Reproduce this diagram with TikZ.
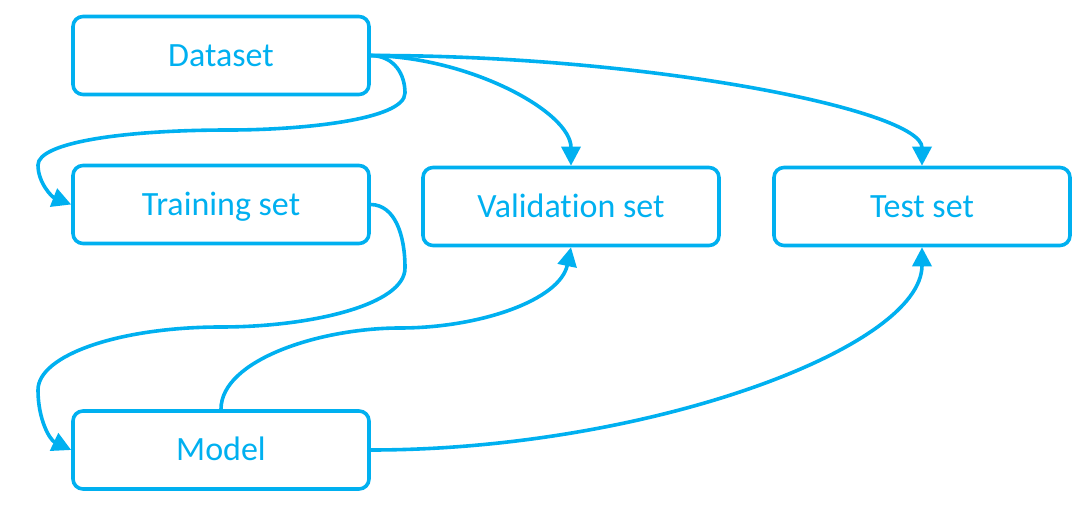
\documentclass[tikz,border=0pt]{standalone}
\usepackage{fontspec}
\setmainfont{Carlito}[Ligatures=NoCommon]
\usetikzlibrary{arrows.meta}
\definecolor{cy}{HTML}{00B0F0}
\tikzset{
  box/.style={draw=cy, line width=1.8pt, rounded corners=5pt, minimum width=148pt,
    minimum height=39pt, inner sep=0pt, text height=13pt, text depth=2pt,
    text=cy, font=\fontsize{17}{20}\selectfont},
  conn/.style={draw=cy, line width=1.8pt, -{Triangle[length=9.5pt,width=9.5pt]}}
}
\begin{document}
\begin{tikzpicture}[x=0.5pt,y=-0.5pt]
\useasboundingbox (0,0) rectangle (1088,507);
\node[box] (ds) at (221,55.5) {Dataset};
\node[box] (tr) at (221,204.5) {Training set};
\node[box] (va) at (571,206.5) {Validat\kern0pt ion set};
\node[box] (te) at (922,206.5) {Test set};
\node[box] (mo) at (221,450) {Model};
% Dataset -> Training
\draw[conn] (ds.east) .. controls (395,56) and (405,75) .. (405,93)
  .. controls (405,120) and (300,130) .. (230,130)
  .. controls (120,130) and (38,143) .. (38,165)
  .. controls (38,183) and (52,197) .. (tr.west);
% Dataset -> Validation
\draw[conn] (ds.east) .. controls (470,57) and (571,112) .. (va.north);
% Dataset -> Test
\draw[conn] (ds.east) .. controls (646,55) and (922,110) .. (te.north);
% Training -> Model
\draw[conn] (tr.east) .. controls (395,205) and (405,235) .. (405,268)
  .. controls (405,305) and (310,327) .. (221,327)
  .. controls (120,327) and (38,355) .. (38,390)
  .. controls (38,420) and (50,440) .. (mo.west);
% Model -> Validation
\draw[conn] (mo.north) .. controls (221,360) and (320,328) .. (400,328)
  .. controls (480,328) and (560,300) .. (va.south);
% Model -> Test
\draw[conn] (mo.east) .. controls (646,450) and (922,348) .. (te.south);
\end{tikzpicture}
\end{document}
